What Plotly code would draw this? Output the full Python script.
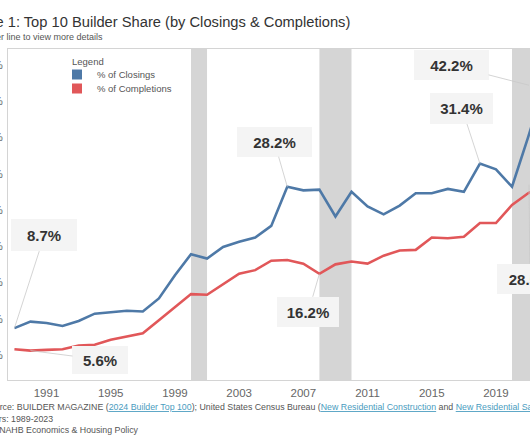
import plotly.graph_objects as go

# ---------------- data ----------------
years = list(range(1989, 2023))
closings = [8.7, 9.6, 9.4, 9.0, 9.7, 10.7, 10.9, 11.1, 11.0, 12.8, 16.0, 18.9, 18.3,
            19.9, 20.6, 21.2, 22.8, 28.2, 27.7, 27.8, 24.1, 27.5, 25.5, 24.4, 25.6,
            27.3, 27.3, 27.9, 27.5, 31.4, 30.6, 28.2, 35.0, 42.2]
completions = [5.8, 5.6, 5.7, 5.8, 6.3, 6.4, 7.1, 7.5, 8.0, 9.8, 11.6, 13.4, 13.3,
               14.8, 16.2, 16.7, 18.0, 18.1, 17.6, 16.2, 17.5, 17.9, 17.6, 18.7, 19.4,
               19.5, 21.2, 21.1, 21.3, 23.2, 23.2, 25.7, 27.3, 28.5]
series_names = {"closings": "% of Closings", "completions": "% of Completions"}
recessions = [(2000, 2001), (2008, 2010), (2020, 2022)]
x_tick_years = [1991, 1995, 1999, 2003, 2007, 2011, 2015, 2019]
y_tick_values = [5, 10, 15, 20, 25, 30, 35, 40, 45]
y_tick_labels = [f"{v}%" for v in y_tick_values]
callout_points = [("closings", 1989), ("completions", 1990), ("closings", 2006),
                  ("completions", 2008), ("closings", 2018), ("closings", 2022),
                  ("completions", 2022)]

# ---------------- styling / layout ----------------
W, H = 530, 442
M_L, M_R, M_T, M_B = 8, 0, 49, 62
PW, PH = W - M_L - M_R, H - M_T - M_B
X_RANGE = [1988.6, 2021.12]
Y_RANGE = [1.55, 47.2]
BLUE, RED = "#4e79a7", "#e15759"
FONT = "Liberation Sans, Arial, sans-serif"

# callout offsets (pixels) and box sizes
callout_style = {
    ("closings", 1989): dict(ax=30, ay=-93, w=66, h=32),
    ("completions", 1990): dict(ax=70, ay=9, w=56, h=28),
    ("closings", 2006): dict(ax=-13, ay=-45, w=75, h=30),
    ("completions", 2008): dict(ax=-11, ay=38, w=62, h=30),
    ("closings", 2018): dict(ax=-18, ay=-55, w=63, h=31),
    ("closings", 2022): dict(ax=-93, ay=-20, w=75, h=30),
    ("completions", 2022): dict(ax=-4, ay=94, w=66, h=30),
}


def px_x(px):
    return (px - M_L) / PW


def px_y(py):
    return (H - M_B - py) / PH


data = {"closings": closings, "completions": completions}
colors = {"closings": BLUE, "completions": RED}
legend_ids = {"closings": "legend", "completions": "legend2"}

fig = go.Figure()

for a, b in recessions:
    fig.add_vrect(x0=a, x1=b, fillcolor="#d5d5d5", opacity=1, line_width=0, layer="below")

for key in ["closings", "completions"]:
    fig.add_trace(go.Scatter(x=years, y=data[key], mode="lines",
                             line=dict(color=colors[key], width=2.6),
                             name=series_names[key], showlegend=False,
                             hoverinfo="x+y"))
for key in ["closings", "completions"]:
    fig.add_trace(go.Scatter(x=[None], y=[None], mode="markers",
                             marker=dict(symbol="square", size=10, color=colors[key]),
                             name=series_names[key], showlegend=True,
                             legend=legend_ids[key]))

# callouts
for key, yr in callout_points:
    v = data[key][years.index(yr)]
    st = callout_style[(key, yr)]
    in_range = X_RANGE[0] <= yr <= X_RANGE[1]
    if in_range:
        xref, xval = "x", yr
    else:
        xref, xval = "paper", (yr - X_RANGE[0]) / (X_RANGE[1] - X_RANGE[0])
    fig.add_annotation(x=xval, xref=xref, y=v, yref="y", text=f"<b>{v:.1f}%</b>",
                       showarrow=True, arrowhead=0, arrowwidth=0.8, arrowcolor="#c9c9c9",
                       standoff=0, ax=st["ax"], ay=st["ay"],
                       bgcolor="#f4f4f4", borderwidth=0, borderpad=1,
                       width=st["w"] - 2, height=st["h"] - 2,
                       font=dict(family=FONT, size=15, color="#333333"))

# title / subtitle (left edge cropped like the reference)
fig.add_annotation(xref="paper", yref="paper", x=px_x(-40), y=px_y(22),
                   xanchor="left", yanchor="middle", showarrow=False,
                   text="Figure 1: Top 10 Builder Share (by Closings & Completions)",
                   font=dict(family=FONT, size=14.7, color="#333333"))
fig.add_annotation(xref="paper", yref="paper", x=px_x(-42), y=px_y(37.5),
                   xanchor="left", yanchor="middle", showarrow=False,
                   text="Hover over line to view more details",
                   font=dict(family=FONT, size=9, color="#555555"))

# legend heading
fig.add_annotation(xref="paper", yref="paper", x=px_x(70), y=px_y(61),
                   xanchor="left", yanchor="middle", showarrow=False,
                   text="Legend", font=dict(family=FONT, size=9.5, color="#555555"))

link = "<span style='color:#4a9cc0;text-decoration:underline'>{}</span>"
footer = [
    "Source: BUILDER MAGAZINE (" + link.format("2024 Builder Top 100") +
    "); United States Census Bureau (" + link.format("New Residential Construction") +
    " and " + link.format("New Residential Sales") + ")",
    "Years: 1989-2023",
    "By: NAHB Economics & Housing Policy",
]
for line, py in zip(footer, [407, 418.5, 429.5]):
    fig.add_annotation(xref="paper", yref="paper", x=px_x(-18.5), y=px_y(py),
                       xanchor="left", yanchor="middle", showarrow=False,
                       text=line, font=dict(family=FONT, size=8.8, color="#555555"))

legend_common = dict(xanchor="left", yanchor="top", bgcolor="rgba(0,0,0,0)",
                     borderwidth=0, font=dict(family=FONT, size=9.5, color="#555555"),
                     tracegroupgap=0, itemsizing="trace")

fig.update_layout(
    template="none",
    width=W, height=H,
    margin=dict(l=M_L, r=M_R, t=M_T, b=M_B, pad=0, autoexpand=False),
    paper_bgcolor="white", plot_bgcolor="white",
    font=dict(family=FONT, size=11, color="#666666"),
    showlegend=True,
    legend=dict(x=px_x(57), y=px_y(60), **legend_common),
    legend2=dict(x=px_x(57), y=px_y(74), **legend_common),
    xaxis=dict(range=X_RANGE, tickvals=x_tick_years, ticktext=[str(t) for t in x_tick_years],
               showgrid=False, zeroline=False, showline=True, linecolor="#d4d4d4",
               linewidth=1, mirror=True, ticks="", automargin=False,
               ticklabelstandoff=2,
               tickfont=dict(family=FONT, size=11.5, color="#666666")),
    yaxis=dict(range=Y_RANGE, tickvals=y_tick_values, ticktext=y_tick_labels,
               showgrid=False, zeroline=False, showline=True, linecolor="#d4d4d4",
               linewidth=1, mirror=False, ticks="", automargin=False,
               ticklabelstandoff=2,
               tickfont=dict(family=FONT, size=11, color="#666666")),
)

fig.write_html("out.html", config={"displayModeBar": False},
               post_script="document.body.style.margin='0';"
                           "document.body.style.overflow='hidden';")
